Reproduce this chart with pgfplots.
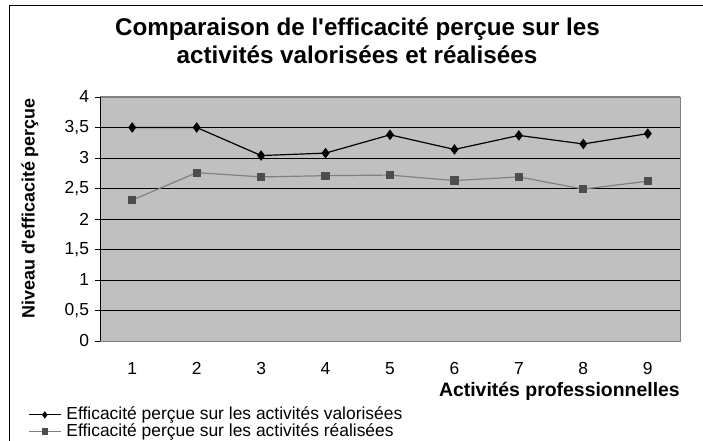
\documentclass[border=0pt]{standalone}
\usepackage{pgfplots}
\pgfplotsset{compat=1.18}
\usepackage{fontspec}
\setmainfont{Liberation Sans}
\definecolor{plotbg}{HTML}{C0C0C0}
\definecolor{ser2}{HTML}{808080}
\definecolor{ser2m}{HTML}{4D4D4D}
\begin{document}
\begin{tikzpicture}[x=1bp,y=1bp]
\useasboundingbox (0,0) rectangle (703,441);
\draw[black,line width=1.5bp] (9.5,-2) -- (9.5,435.3) -- (706,435.3);
\node[font=\fontsize{24.3}{28}\selectfont\bfseries,anchor=base,inner sep=0pt] at (357.5,405) {Comparaison de l\textquotesingle efficacité perçue sur les};
\node[font=\fontsize{24.3}{28}\selectfont\bfseries,anchor=base,inner sep=0pt] at (357,377) {activités valorisées et réalisées};
\node[font=\fontsize{18}{21}\selectfont\bfseries,rotate=90,anchor=east,inner sep=0pt] at (30,343) {Niveau d\textquotesingle efficacité perçue};
\node[font=\fontsize{19.5}{22}\selectfont\bfseries,anchor=base east,inner sep=0pt] at (680,44.3) {Activités professionnelles};
\begin{axis}[
  at={(100bp,100bp)}, anchor=south west,
  width=580bp, height=244bp, scale only axis,
  xmin=0.5, xmax=9.5, ymin=0, ymax=4,
  axis background/.style={fill=plotbg},
  axis line style={draw=ser2},
  xtick={1,...,9},
  xtick style={draw=none},
  extra x ticks={0.5,1.5,...,9.5},
  extra x tick labels={},
  extra x tick style={tick style={draw=black,line width=0.9bp}, major tick length=5bp, grid=none},
  ytick={0,0.5,...,4},
  ytick style={draw=black,line width=0.9bp},
  major tick length=5bp,
  tick align=outside,
  xtick pos=bottom, ytick pos=left,
  ymajorgrids,
  major grid style={black, line width=0.9bp},
  /pgf/number format/assume math mode=true,
  /pgf/number format/use comma,
  /pgf/number format/fixed,
  yticklabel style={font=\fontsize{17.5}{20}\selectfont, xshift=-2.5bp},
  xticklabel style={font=\fontsize{17.5}{20}\selectfont, yshift=-12.7bp},
  legend style={at={(-0.1241,-0.2713)}, anchor=north west, draw=none, fill=none,
    font=\fontsize{17.5}{20}\selectfont, row sep=1.7bp, inner sep=0pt,
    nodes={inner sep=0pt, text height=12bp, text depth=3bp},
    legend cell align=left},
  legend image code/.code={\draw[mark repeat=2,mark phase=2,#1] plot coordinates {(0bp,0bp) (16bp,0bp) (32bp,0bp)};},
  /tikz/every odd column/.append style={column sep=5bp},
  legend image post style={mark size=2.7bp},
]
\addplot[black, line width=1.2bp, mark=diamond*, mark size=4.3bp, mark options={fill=black}] coordinates {
(1,3.50) (2,3.50) (3,3.04) (4,3.08) (5,3.38) (6,3.14) (7,3.37) (8,3.23) (9,3.40)};
\addlegendentry{Efficacité perçue sur les activités valorisées}
\addplot[ser2, line width=1.2bp, mark=square*, mark size=3.5bp, mark options={fill=ser2m,draw=ser2m}] coordinates {
(1,2.31) (2,2.76) (3,2.69) (4,2.71) (5,2.72) (6,2.63) (7,2.69) (8,2.49) (9,2.62)};
\addlegendentry{Efficacité perçue sur les activités réalisées}
\draw[ser2, line width=1bp] (rel axis cs:0,1) -- (rel axis cs:1,1) -- (rel axis cs:1,0);
\draw[black, line width=0.9bp] (rel axis cs:0,1) -- (rel axis cs:0,0) -- (rel axis cs:1,0);
\end{axis}
\end{tikzpicture}
\end{document}
